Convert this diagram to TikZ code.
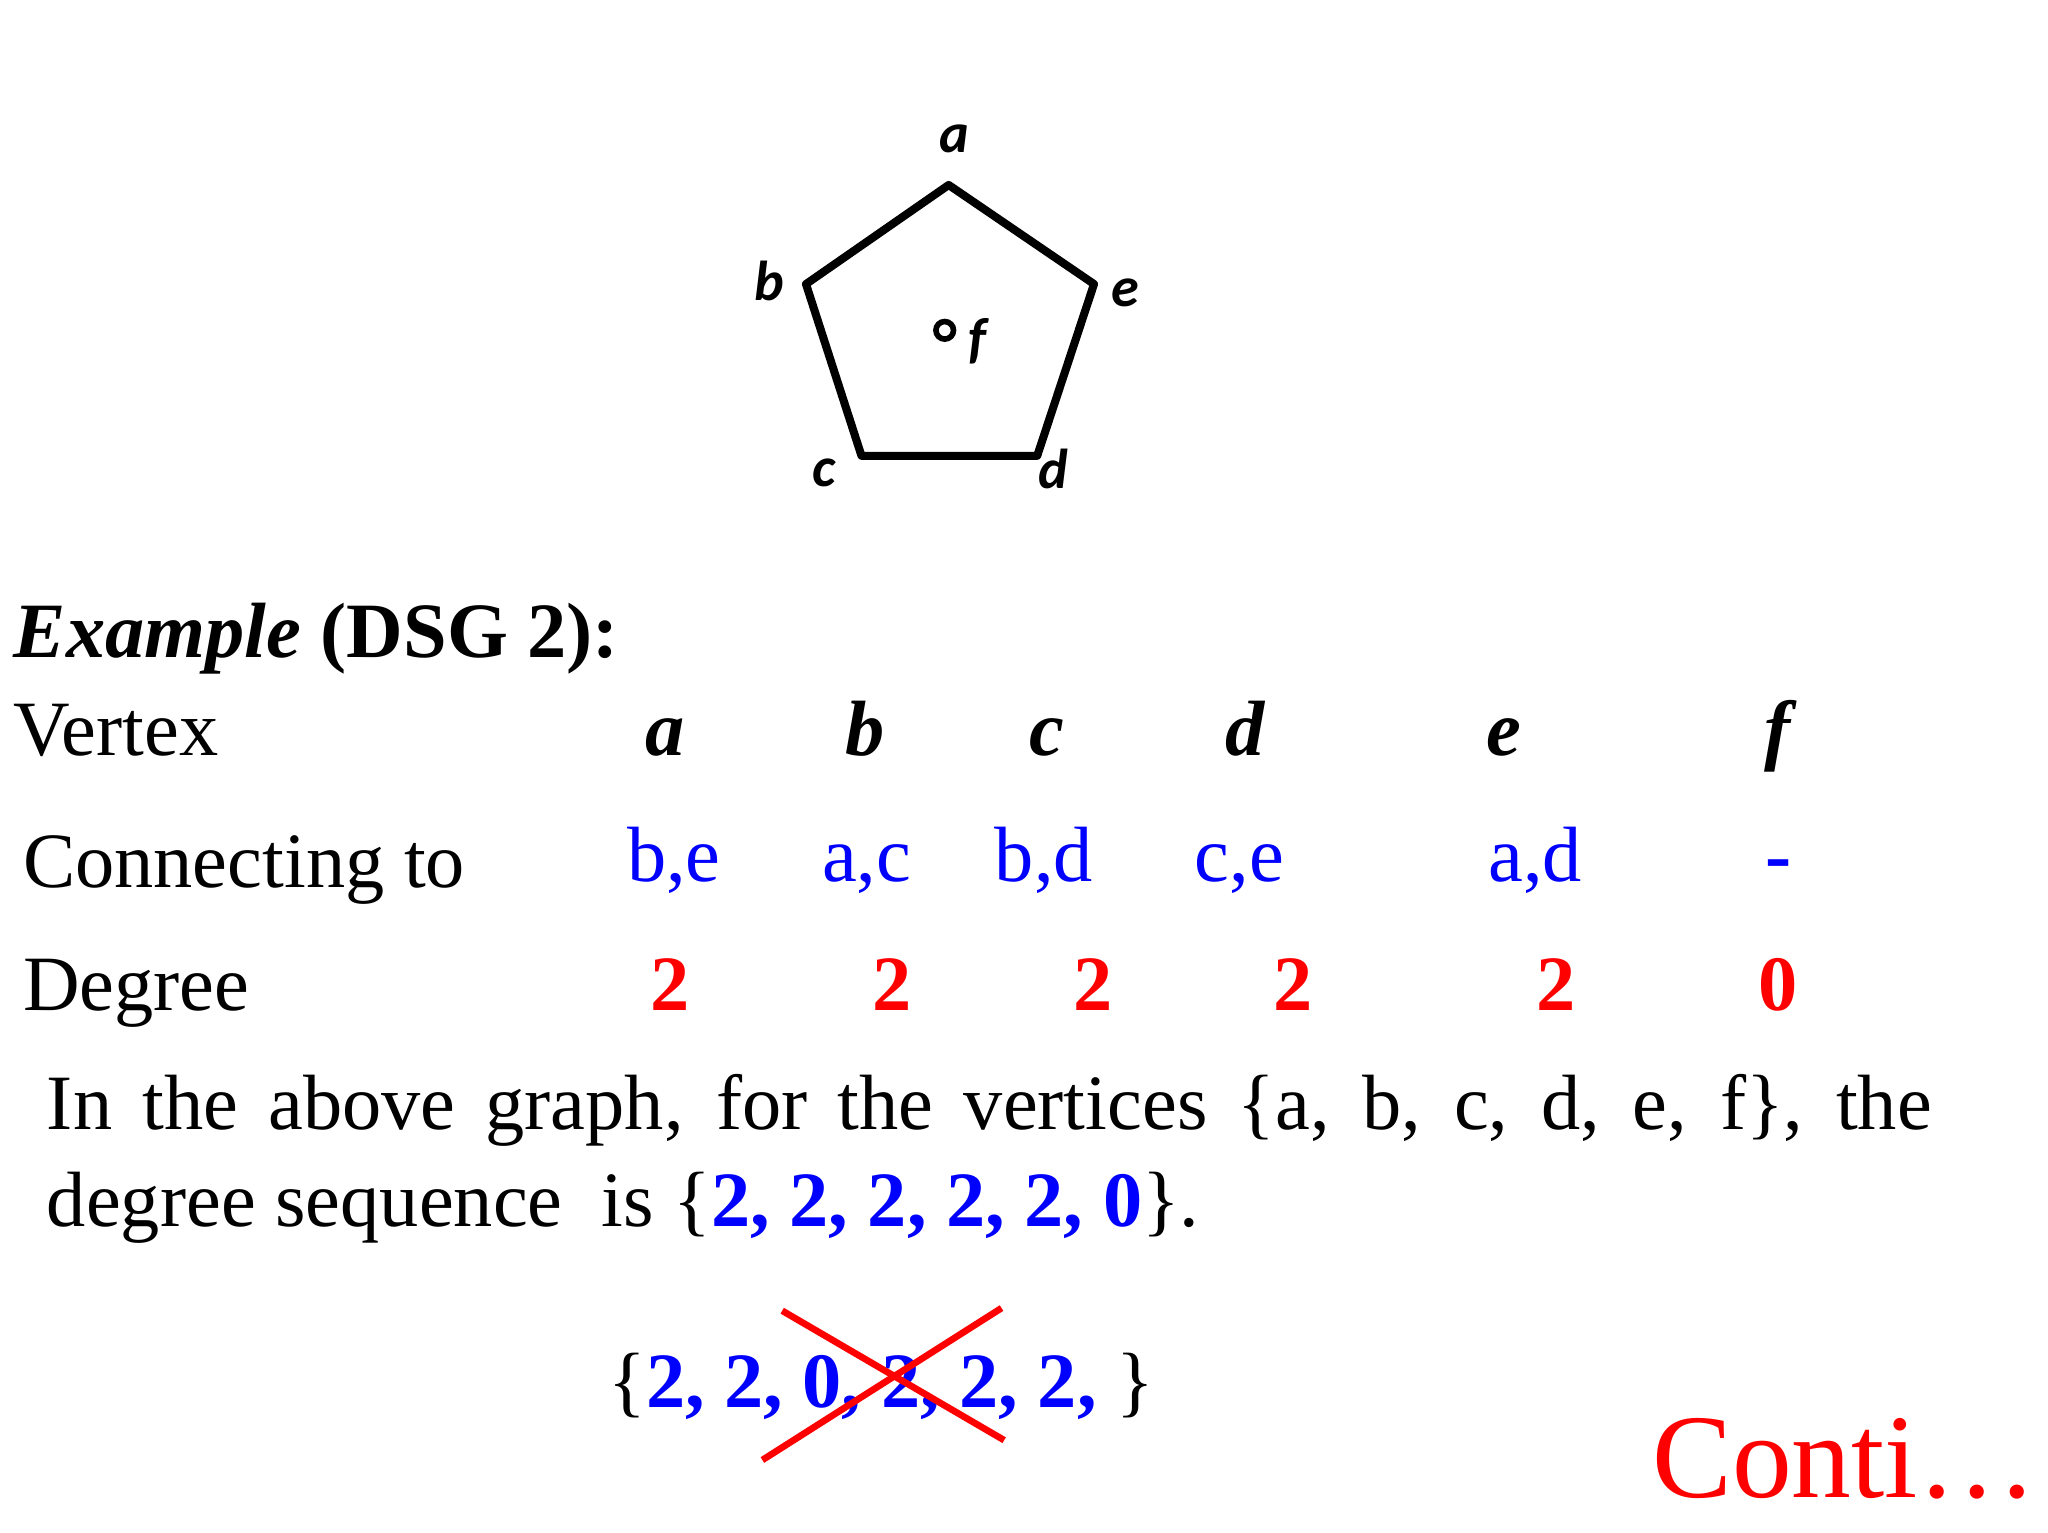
\documentclass[tikz,border=0pt]{standalone}
\usepackage{fontspec}
\setmainfont{Liberation Serif}
\newfontfamily\lab{Carlito}
\begin{document}
\begin{tikzpicture}[x=0.013213cm,y=-0.013213cm,
  txt/.style={font=\fontsize{22.3}{26}\selectfont,inner sep=0pt,anchor=base west},
  ctr/.style={font=\fontsize{22.3}{26}\selectfont,inner sep=0pt,anchor=base},
  vl/.style={font=\lab\bfseries\itshape\fontsize{16}{18}\selectfont,inner sep=0pt},
  edge/.style={line width=2.3pt,line join=round},
  hd/.style={ctr,font=\fontsize{22.3}{26}\selectfont\bfseries\itshape},
  bl/.style={ctr,text=blue},
  rd/.style={ctr,text=red,font=\fontsize{22.3}{26}\selectfont\bfseries}]
\useasboundingbox (0,0) rectangle (1550,1160);
% pentagon
\coordinate (a) at (718,140);
\coordinate (b) at (610,215);
\coordinate (e) at (828,215);
\coordinate (c) at (652,345);
\coordinate (d) at (785,345);
\draw[edge] (a)--(e)--(d)--(c)--(b)--cycle;
\node[circle,draw,line width=1.6pt,inner sep=0pt,minimum size=5pt] (f) at (715,250) {};
\node[vl] (la) at (722,105) {a};
\node[vl] (lb) at (582,213) {b};
\node[vl] (le) at (852,222) {e};
\node[vl] (lc) at (624,358) {c};
\node[vl] (ld) at (797,355) {d};
\node[vl] (lf) at (740,258) {f};
% table
\node[txt] (ex) at (10,498) {\textbf{\textit{Example}} \textbf{(DSG 2):}};
\node[txt] (vx) at (10,572) {Vertex};
\node[txt] (ct) at (17,672) {Connecting to};
\node[txt] (dg) at (17,765) {Degree};
\foreach \n/\x/\t in {ha/503/a,hb/655/b,hc/792/c,hd/942/d,he/1138/e,hf/1345/f}
  \node[hd] (\n) at (\x,572) {\t};
\foreach \n/\x/\t in {ca/510/{b,e},cb/656/{a,c},cc/790/{b,d},cd/938/{c,e},ce/1162/{a,d}}
  \node[bl] (\n) at (\x,667) {\t};
\node[bl,font=\fontsize{22.3}{26}\selectfont\bfseries] (cf) at (1346,667) {-};
\foreach \n/\x/\t in {da/507/2,db/675/2,dc/827/2,dd/979/2,de/1178/2,df/1346/0}
  \node[rd] (\n) at (\x,765) {\t};
% paragraph
\node[txt] (p1) at (35,855) {\makebox[18.85cm][s]{In the above graph, for the vertices \{a, b, c, d, e, f\}, the}};
\node[txt] (p2) at (35,928) {degree sequence\ \ is \{\textcolor{blue}{\textbf{2, 2, 2, 2, 2, 0}}\}.};
% crossed set
\node[txt] (s) at (460,1065) {\{\textcolor{blue}{\textbf{2, 2, 0, 2, 2, 2,}}\ \}};
\coordinate (x1) at (592,992); \coordinate (x2) at (760,1090);
\coordinate (x3) at (577,1105); \coordinate (x4) at (758,990);
\draw[red,line width=1.9pt] (x1)--(x2);
\draw[red,line width=1.9pt] (x3)--(x4);
\node[txt,text=red,font=\fontsize{34}{38}\selectfont] (co) at (1250,1133) {Conti\dots};
\end{tikzpicture}
\end{document}
